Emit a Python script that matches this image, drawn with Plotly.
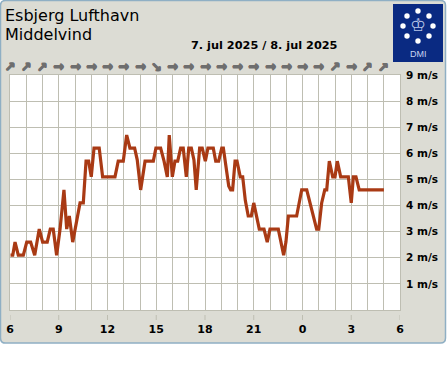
import plotly.graph_objects as go

# hours after 06:00 on 7 July
hours = [0,0.14,0.28,0.48,0.79,1.0,1.24,1.49,1.77,1.98,2.26,2.45,2.63,2.84,3.05,3.29,3.46,3.62,3.83,4.03,4.28,4.48,4.65,4.81,4.97,5.14,5.46,5.67,6.43,6.63,6.94,7.15,7.35,7.64,7.8,8.01,8.28,8.79,8.95,9.24,9.45,9.65,9.77,9.96,10.12,10.29,10.47,10.63,10.82,10.97,11.13,11.29,11.43,11.64,11.8,11.99,12.15,12.48,12.63,12.81,13.0,13.1,13.26,13.43,13.55,13.67,13.82,13.94,14.14,14.29,14.45,14.63,14.82,14.97,15.31,15.6,15.8,15.97,16.48,16.81,16.95,17.1,17.61,17.92,18.23,18.84,18.97,19.15,19.34,19.46,19.62,19.83,19.97,20.11,20.32,20.79,20.97,21.1,21.26,21.46,22.98]
wind = [2.1,2.1,2.6,2.1,2.1,2.6,2.6,2.1,3.1,2.6,2.6,3.1,3.1,2.1,3.1,4.6,3.1,3.6,2.6,3.35,4.1,4.1,5.7,5.7,5.1,6.2,6.2,5.1,5.1,5.7,5.7,6.7,6.2,6.2,5.75,4.6,5.7,5.7,6.2,6.2,5.7,5.1,6.7,5.1,5.7,5.7,6.2,6.2,5.1,6.2,6.2,5.75,4.6,6.2,6.2,5.7,6.2,6.2,5.7,5.7,6.2,6.2,5.4,4.75,4.6,4.6,5.7,5.7,5.1,5.1,4.2,3.6,3.6,4.1,3.1,3.1,2.6,3.1,3.1,2.1,2.6,3.6,3.6,4.6,4.6,3.1,3.1,4.1,4.6,4.6,5.7,5.1,5.1,5.7,5.1,5.1,4.1,5.1,5.1,4.6,4.6]

x_tick_vals = [0,3,6,9,12,15,18,21,24]
x_tick_text = ["6","9","12","15","18","21","0","3","6"]
y_tick_vals = [1,2,3,4,5,6,7,8,9]
y_tick_text = ["1 m/s","2 m/s","3 m/s","4 m/s","5 m/s","6 m/s","7 m/s","8 m/s","9 m/s"]
arrow_hours = list(range(24))
arrow_angles = [-45,-45,-45,0,0,0,0,0,0,45,0,0,0,0,0,0,0,0,0,0,-45,0,-45,-45]
title_lines = ["Esbjerg Lufthavn", "Middelvind"]
date_label = "7. jul 2025 / 8. jul 2025"

W, H = 447, 370
L, R, T, B = 10, 400, 75, 310
PANEL = "#dcdcd4"; EDGE = "#8fafc4"; GRID = "#bebeb2"; LINE = "#a93a14"; NAVY = "#0a2a82"
BOLD = "DejaVu Sans"
ARROW = "#6e6e6e"

def px(v): return (v - L) / (R - L)
def py(v): return (B - v) / (B - T)

shapes, ann = [], []
a, b, c, d, r = 0.5, 445.5, 0.5, 343, 5
path = (f"M {px(a+r)},{py(c)} L {px(b-r)},{py(c)} Q {px(b)},{py(c)} {px(b)},{py(c+r)} "
        f"L {px(b)},{py(d-r)} Q {px(b)},{py(d)} {px(b-r)},{py(d)} L {px(a+r)},{py(d)} "
        f"Q {px(a)},{py(d)} {px(a)},{py(d-r)} L {px(a)},{py(c+r)} Q {px(a)},{py(c)} {px(a+r)},{py(c)} Z")
shapes.append(dict(type="path", path=path, xref="paper", yref="paper", fillcolor=PANEL,
                   line=dict(color=EDGE, width=1.5), layer="below"))
shapes.append(dict(type="rect", xref="paper", yref="paper", x0=0, x1=1, y0=0, y1=1,
                   fillcolor="white", line=dict(width=0), layer="below"))
# logo
shapes.append(dict(type="rect", xref="paper", yref="paper", x0=px(393), x1=px(443), y0=py(62), y1=py(4),
                   fillcolor=NAVY, line=dict(width=0), layer="above"))
for cx, cy in [(418,11),(429,16),(433,26),(429,36),(418,41),(407,36),(403,26),(407,16)]:
    shapes.append(dict(type="circle", xref="paper", yref="paper", x0=px(cx-2.7), x1=px(cx+2.7),
                       y0=py(cy+2.7), y1=py(cy-2.7), fillcolor="white", line=dict(width=0), layer="above"))
ann.append(dict(text="♔", xref="paper", yref="paper", x=px(418), y=py(25), showarrow=False,
                xanchor="center", yanchor="middle",
                font=dict(family="DejaVu Sans", size=18, color="#b9c6e8")))
ann.append(dict(text="DMI", xref="paper", yref="paper", x=px(418), y=py(54), showarrow=False,
                xanchor="center", yanchor="middle",
                font=dict(family="Liberation Sans", size=9, color="#c8d2f0")))
# title
for txt, yy in zip(title_lines, [15, 35]):
    ann.append(dict(text=txt, xref="paper", yref="paper", x=px(3), y=py(yy), xanchor="left", yanchor="middle",
                    showarrow=False, font=dict(family="DejaVu Sans", size=16, color="black")))
ann.append(dict(text=f"<b>{date_label}</b>", xref="paper", yref="paper", x=px(264), y=py(46), showarrow=False,
                xanchor="center", yanchor="middle",
                font=dict(family=BOLD, size=11.3, color="black")))
# wind direction arrows
for h, ang in zip(arrow_hours, arrow_angles):
    ann.append(dict(text="<b>→</b>", x=h, xref="x", y=py(67), yref="paper", showarrow=False, textangle=ang,
                    xanchor="center", yanchor="middle",
                    font=dict(family="DejaVu Sans", size=13, color=ARROW,
                              shadow=f"0.6px 0 {ARROW}, -0.6px 0 {ARROW}, 0 0.6px {ARROW}, 0 -0.6px {ARROW}")))
# x tick marks, detached from the axis
for v in x_tick_vals:
    shapes.append(dict(type="line", xref="x", yref="paper", x0=v, x1=v, y0=py(315), y1=py(320),
                       line=dict(color=GRID, width=1), layer="above"))

fig = go.Figure(go.Scatter(x=[h + 0.03 for h in hours], y=wind, mode="lines", cliponaxis=False,
                           line=dict(color=LINE, width=3.2, shape="linear"), hoverinfo="skip"))
fig.update_layout(
    width=W, height=H, margin=dict(l=L, r=W-R, t=T, b=H-B, pad=0), showlegend=False,
    paper_bgcolor="white", plot_bgcolor="rgba(0,0,0,0)", shapes=shapes, annotations=ann,
    font=dict(family=BOLD, size=11, color="black"),
    xaxis=dict(range=[0,24], tickmode="array", tickvals=x_tick_vals, ticktext=[f"<b>{t}</b>" for t in x_tick_text],
               showgrid=False, zeroline=False, ticks="", ticklabelstandoff=9, automargin=False,
               minor=dict(dtick=1, tick0=0, showgrid=True, gridcolor=GRID, gridwidth=1),
               showline=True, linecolor=GRID, mirror=True),
    yaxis=dict(range=[0,9], side="right", tickmode="array", tickvals=y_tick_vals, automargin=False,
               ticktext=[f"<b>{t}</b>" for t in y_tick_text], gridcolor=GRID, gridwidth=1, zeroline=False,
               tickfont=dict(size=10.5), ticks="", ticklabelstandoff=3, showline=True, linecolor=GRID, mirror=True),
)
fig.write_html("out.html", post_script="document.body.style.margin='0';document.body.style.overflow='hidden';",
               config=dict(displayModeBar=False))
